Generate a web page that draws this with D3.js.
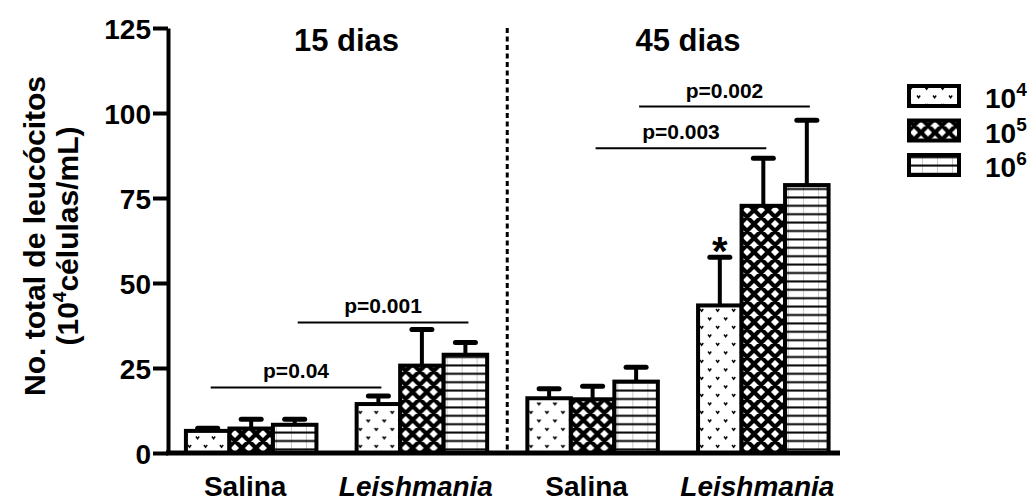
<!DOCTYPE html>
<html>
<head>
<meta charset="utf-8">
<script src="https://cdn.jsdelivr.net/npm/d3@7"></script>
<style>
  html, body { margin: 0; padding: 0; background: #fff; }
  svg { display: block; }
  text { font-family: "Liberation Sans", Arial, sans-serif; font-weight: bold; fill: #000; }
</style>
</head>
<body>
<svg id="chart" width="1030" height="503"></svg>
<script>
// Groups along the x axis (two time points, each Salina vs Leishmania)
const groups = ["Salina", "Leishmania", "Salina", "Leishmania"];
const periods = ["15 dias", "45 dias"];
// Inoculum sizes (legend), exponent of 10
const seriesExp = ["4", "5", "6"];
// Mean leukocyte counts (10^4 cells/mL) per group, one array per inoculum
const mean1e4 = [6.5, 14.4, 16.1, 43.4];
const mean1e5 = [7.2, 25.7, 15.8, 72.7];
const mean1e6 = [8.3, 28.9, 21.0, 78.8];
// Upper error (SEM) per group
const sem1e4 = [0.8, 2.4, 2.8, 14.2];
const sem1e5 = [2.7, 10.6, 3.8, 14.0];
const sem1e6 = [1.6, 3.6, 4.2, 19.1];
// y-axis ticks
const yTicks = [0, 25, 50, 75, 100, 125];
// Comparisons: from group a to group b for a given inoculum index, drawn at level
const compFrom = [0, 0, 2, 2];
const compTo = [1, 1, 3, 3];
const compSeries = [0, 2, 1, 2];
const compLevel = [19.3, 38.4, 89.6, 101.9];
const compLabel = ["p=0.04", "p=0.001", "p=0.003", "p=0.002"];
// Asterisk marks (group, series)
const starGroup = [3];
const starSeries = [0];

const means = [mean1e4, mean1e5, mean1e6];
const sems = [sem1e4, sem1e5, sem1e6];
const patIds = ["pDots", "pCross", "pLines"];

const svg = d3.select("#chart");
const defs = svg.append("defs");

// Fill patterns
const pd = defs.append("pattern").attr("id", "pDots").attr("patternUnits", "userSpaceOnUse")
  .attr("width", 16).attr("height", 17);
pd.append("rect").attr("width", 16).attr("height", 17).attr("fill", "#fff");
pd.append("path").attr("d", "M2,3 l1.6,2.2 l1.6,-2.2 M10,11.5 l1.6,2.2 l1.6,-2.2")
  .attr("fill", "none").attr("stroke", "#000").attr("stroke-width", 1.4);

const pc = defs.append("pattern").attr("id", "pCross").attr("patternUnits", "userSpaceOnUse")
  .attr("width", 14).attr("height", 14);
pc.append("rect").attr("width", 14).attr("height", 14).attr("fill", "#fff");
pc.append("path")
  .attr("d", "M-4,-4 L18,18 M10,-4 L18,4 M-4,10 L4,18 M18,-4 L-4,18 M4,-4 L-4,4 M18,10 L10,18")
  .attr("fill", "none").attr("stroke", "#000").attr("stroke-width", 4.2);

const pl = defs.append("pattern").attr("id", "pLines").attr("patternUnits", "userSpaceOnUse")
  .attr("width", 15).attr("height", 8.4);
pl.append("rect").attr("width", 15).attr("height", 8.4).attr("fill", "#fff");
pl.append("line").attr("x1", 0.5).attr("x2", 0.5).attr("y1", 0).attr("y2", 8.4)
  .attr("stroke", "#c8c8c8").attr("stroke-width", 1);
pl.append("line").attr("x1", 0).attr("x2", 15).attr("y1", 4.2).attr("y2", 4.2)
  .attr("stroke", "#000").attr("stroke-width", 2);

// Scales
const y = d3.scaleLinear().domain([0, 125]).range([453, 28]);
const x0 = d3.scaleBand().domain(d3.range(groups.length)).range([168, 846.5])
  .paddingInner(0.2355).paddingOuter(0.105);
const x1 = d3.scaleBand().domain(d3.range(seriesExp.length)).range([0, x0.bandwidth()]).padding(0);

// Bars
const gGroups = svg.append("g").selectAll("g").data(groups).join("g")
  .attr("transform", (d, i) => `translate(${x0(i)},0)`);

gGroups.each(function (gname, gi) {
  const g = d3.select(this);
  seriesExp.forEach((s, si) => {
    const v = means[si][gi];
    const e = sems[si][gi];
    const cx = x1(si) + x1.bandwidth() / 2;
    // error bar (upper only)
    g.append("line").attr("x1", cx).attr("x2", cx).attr("y1", y(v)).attr("y2", y(v + e))
      .attr("stroke", "#000").attr("stroke-width", 4);
    g.append("line").attr("x1", cx - 10).attr("x2", cx + 10).attr("y1", y(v + e)).attr("y2", y(v + e))
      .attr("stroke", "#000").attr("stroke-width", 5).attr("stroke-linecap", "round");
    g.append("rect")
      .attr("x", x1(si)).attr("y", y(v))
      .attr("width", x1.bandwidth()).attr("height", y(0) - y(v))
      .attr("fill", `url(#${patIds[si]})`)
      .attr("stroke", "#000").attr("stroke-width", 4);
  });
});

// Divider between the two time points
const midX = (x0(1) + x0.bandwidth() + x0(2)) / 2;
svg.append("line").attr("x1", midX).attr("x2", midX).attr("y1", y(125)).attr("y2", y(0))
  .attr("stroke", "#000").attr("stroke-width", 3).attr("stroke-dasharray", "5,3.5");

// Baseline
svg.append("line").attr("x1", 166).attr("x2", 840).attr("y1", y(0)).attr("y2", y(0))
  .attr("stroke", "#000").attr("stroke-width", 5);

// y axis
const yAxis = svg.append("g").attr("transform", "translate(168,0)")
  .call(d3.axisLeft(y).tickValues(yTicks).tickSize(15).tickSizeOuter(0).tickPadding(2));
yAxis.select(".domain").attr("stroke", "#000").attr("stroke-width", 4);
yAxis.selectAll(".tick line").attr("stroke", "#000").attr("stroke-width", 4);
yAxis.selectAll(".tick text").attr("font-size", 28).attr("font-family", "Liberation Sans, Arial, sans-serif")
  .attr("font-weight", "bold").attr("fill", "#000").attr("dy", "0.36em");

// y axis title
const yt = svg.append("g").attr("transform", "translate(0,236) rotate(-90)");
yt.append("text").attr("x", 0).attr("y", 45).attr("text-anchor", "middle").attr("font-size", 30)
  .text("No. total de leucócitos");
const yt2 = yt.append("text").attr("x", 0).attr("y", 78).attr("text-anchor", "middle").attr("font-size", 30);
yt2.append("tspan").text("(10");
yt2.append("tspan").attr("font-size", 19).attr("dy", -12).text("4");
yt2.append("tspan").attr("dy", 12).text("células/mL)");

// Group labels
svg.append("g").selectAll("text").data(groups).join("text")
  .attr("x", (d, i) => x0(i) + x0.bandwidth() / 2 - 6)
  .attr("y", 496)
  .attr("text-anchor", "middle")
  .attr("font-size", 28)
  .attr("font-style", d => d === "Leishmania" ? "italic" : "normal")
  .text(d => d);

// Period titles
svg.append("g").selectAll("text").data(periods).join("text")
  .attr("x", (d, i) => (x0(2 * i) + x0(2 * i + 1) + x0.bandwidth()) / 2 + 10)
  .attr("y", 51)
  .attr("text-anchor", "middle")
  .attr("font-size", 31)
  .text(d => d);

// Comparison brackets
compLabel.forEach((lab, k) => {
  const xa = x0(compFrom[k]) + x1(compSeries[k]) + x1.bandwidth() / 2 + 3;
  const xb = x0(compTo[k]) + x1(compSeries[k]) + x1.bandwidth() / 2 + 3;
  const yy = y(compLevel[k]);
  svg.append("line").attr("x1", xa).attr("x2", xb).attr("y1", yy).attr("y2", yy)
    .attr("stroke", "#000").attr("stroke-width", 2);
  svg.append("text").attr("x", (xa + xb) / 2).attr("y", yy - 9).attr("text-anchor", "middle")
    .attr("font-size", 21).text(lab);
});

// Asterisks
starGroup.forEach((gi, k) => {
  const si = starSeries[k];
  const v = means[si][gi] + sems[si][gi];
  svg.append("text").attr("x", x0(gi) + x1(si) + x1.bandwidth() / 2).attr("y", y(v) + 8)
    .attr("text-anchor", "middle").attr("font-size", 40).attr("font-weight", "normal").text("*");
});

// Legend
const legend = svg.append("g").attr("transform", "translate(907,84)");
seriesExp.forEach((s, si) => {
  const row = legend.append("g").attr("transform", `translate(0,${si * 34.5})`);
  row.append("rect").attr("x", 2).attr("y", 2).attr("width", 50).attr("height", 20)
    .attr("fill", `url(#${patIds[si]})`).attr("stroke", "#000").attr("stroke-width", 4);
  const t = row.append("text").attr("x", 78).attr("y", 24).attr("font-size", 28);
  t.append("tspan").text("10");
  t.append("tspan").attr("font-size", 19).attr("dy", -12).text(s);
});
</script>
</body>
</html>
